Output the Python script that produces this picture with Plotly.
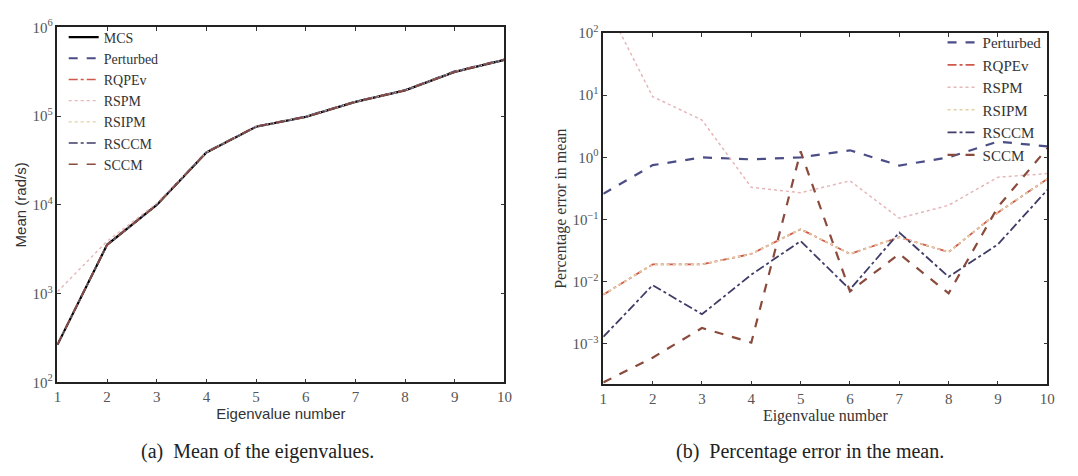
import plotly.graph_objects as go

eig = [1, 2, 3, 4, 5, 6, 7, 8, 9, 10]

# Left panel: mean of eigenvalues (rad/s)
mean_mcs = [265, 3550, 10000, 39000, 76000, 98000, 145000, 195000, 315000, 430000]
mean_perturbed = [266, 3575, 10100, 39350, 76750, 99300, 146100, 197000, 320700, 436500]
mean_rqpev = [265, 3551, 10002, 39011, 76053, 98027, 145075, 195059, 315400, 431900]
mean_rspm = [1050, 3890, 10400, 39130, 76210, 98410, 145150, 195330, 316500, 432400]
mean_rsipm = [265, 3551, 10002, 39011, 76053, 98027, 145075, 195059, 315400, 431900]
mean_rsccm = [265, 3550, 10000, 39005, 76034, 98007, 145090, 195023, 315126, 431290]
mean_sccm = [265, 3550, 10000, 39000, 76950, 98007, 145040, 195013, 315500, 436000]

# Right panel: percentage error in mean
err_perturbed = [0.26, 0.75, 1.0, 0.93, 1.0, 1.3, 0.74, 1.0, 1.8, 1.5]
err_rqpev = [0.0062, 0.019, 0.019, 0.028, 0.07, 0.028, 0.052, 0.03, 0.13, 0.45]
err_rspm = [350, 9.5, 4.0, 0.33, 0.27, 0.42, 0.105, 0.17, 0.48, 0.55]
err_rsipm = [0.0062, 0.019, 0.019, 0.028, 0.07, 0.028, 0.052, 0.03, 0.13, 0.45]
err_rsccm = [0.0013, 0.0088, 0.003, 0.013, 0.045, 0.0075, 0.062, 0.012, 0.04, 0.3]
err_sccm = [0.00024, 0.0006, 0.0018, 0.00105, 1.25, 0.007, 0.028, 0.0065, 0.16, 1.4]

left_ticks = [1e2, 1e3, 1e4, 1e5, 1e6]
left_ticktext = ["10<sup>2</sup>", "10<sup>3</sup>", "10<sup>4</sup>", "10<sup>5</sup>", "10<sup>6</sup>"]
right_ticks = [1e-3, 1e-2, 1e-1, 1e0, 1e1, 1e2]
right_ticktext = ["10<sup>−3</sup>", "10<sup>−2</sup>", "10<sup>−1</sup>", "10<sup>0</sup>", "10<sup>1</sup>", "10<sup>2</sup>"]

C_PERT = "#4b4d86"
C_RQPEV = "#d0584a"
C_RSPM = "#e6b6b8"
C_RSIPM = "#e2cfa6"
C_RSCCM = "#3f3d68"
C_SCCM = "#8a4a3c"

SERIF = "Liberation Serif, Times New Roman, serif"
SANS = "Liberation Sans, Arial, sans-serif"

fig = go.Figure()

left_series = [
    ("MCS", mean_mcs, "black", "solid", 2.2),
    ("Perturbed", mean_perturbed, C_PERT, "dash", 1.8),
    ("RQPEv", mean_rqpev, C_RQPEV, "dashdot", 1.4),
    ("RSPM", mean_rspm, C_RSPM, "dot", 1.4),
    ("RSIPM", mean_rsipm, C_RSIPM, "dot", 1.4),
    ("RSCCM", mean_rsccm, C_RSCCM, "dashdot", 1.4),
    ("SCCM", mean_sccm, C_SCCM, "dash", 1.4),
]
for name, ys, col, dash, w in left_series:
    fig.add_trace(go.Scatter(x=eig, y=ys, name=name, mode="lines",
                             line=dict(color=col, dash=dash, width=w),
                             xaxis="x", yaxis="y", legend="legend"))

right_series = [
    ("Perturbed", err_perturbed, C_PERT, "dash", 2.2),
    ("RQPEv", err_rqpev, C_RQPEV, "dashdot", 1.8),
    ("RSPM", err_rspm, C_RSPM, "dot", 1.5),
    ("RSIPM", err_rsipm, C_RSIPM, "dot", 1.5),
    ("RSCCM", err_rsccm, C_RSCCM, "dashdot", 1.8),
    ("SCCM", err_sccm, C_SCCM, "dash", 2.2),
]
for name, ys, col, dash, w in right_series:
    fig.add_trace(go.Scatter(x=eig, y=ys, name=name, mode="lines",
                             line=dict(color=col, dash=dash, width=w),
                             xaxis="x2", yaxis="y2", legend="legend2"))

axis_common = dict(showline=True, linecolor="#222", linewidth=1.5, mirror="ticks",
                   ticks="inside", ticklen=4, tickcolor="#333", showgrid=False,
                   zeroline=False, tickfont=dict(family=SERIF, size=15, color="#555"))

fig.update_layout(
    width=1078, height=476,
    margin=dict(l=0, r=0, t=0, b=0),
    paper_bgcolor="white", plot_bgcolor="white",
    showlegend=True,
    xaxis=dict(domain=[0.0501, 0.4694], range=[1, 10], tickvals=eig, anchor="y",
               title=dict(text="Eigenvalue number", font=dict(family=SANS, size=15, color="#333"), standoff=4),
               **axis_common),
    yaxis=dict(domain=[0.187, 0.962], type="log", range=[2, 6], tickvals=left_ticks,
               ticktext=left_ticktext, anchor="x",
               title=dict(text="Mean (rad/s)", font=dict(family=SANS, size=15, color="#333"), standoff=2),
               **axis_common),
    xaxis2=dict(domain=[0.5622, 0.9787], range=[1, 10], tickvals=eig, anchor="y2",
                title=dict(text="Eigenvalue number", font=dict(family=SERIF, size=16, color="#333"), standoff=3),
                **axis_common),
    yaxis2=dict(domain=[0.1828, 0.9496], type="log", range=[-3.65, 2], tickvals=right_ticks,
                ticktext=right_ticktext, anchor="x2",
                title=dict(text="Percentage error in mean", font=dict(family=SERIF, size=16, color="#333"), standoff=2),
                **axis_common),
    legend=dict(x=0.056, y=0.975, xanchor="left", yanchor="top", bgcolor="rgba(255,255,255,0)",
                font=dict(family=SERIF, size=14, color="#333"), tracegroupgap=0, itemwidth=30),
    legend2=dict(x=0.978, y=0.965, xanchor="right", yanchor="top", bgcolor="rgba(255,255,255,0)",
                 font=dict(family=SERIF, size=15, color="#333"), tracegroupgap=0, itemwidth=30),
    annotations=[
        dict(text="(a)  Mean of the eigenvalues.", x=0.238, y=0.036, xref="paper", yref="paper",
             yanchor="middle", showarrow=False, font=dict(family=SERIF, size=20, color="#222"),
             xanchor="center"),
        dict(text="(b)  Percentage error in the mean.", x=0.756, y=0.036, xref="paper", yref="paper",
             yanchor="middle", showarrow=False, font=dict(family=SERIF, size=20, color="#222"),
             xanchor="center"),
    ],
)

fig.write_html("out.html")
